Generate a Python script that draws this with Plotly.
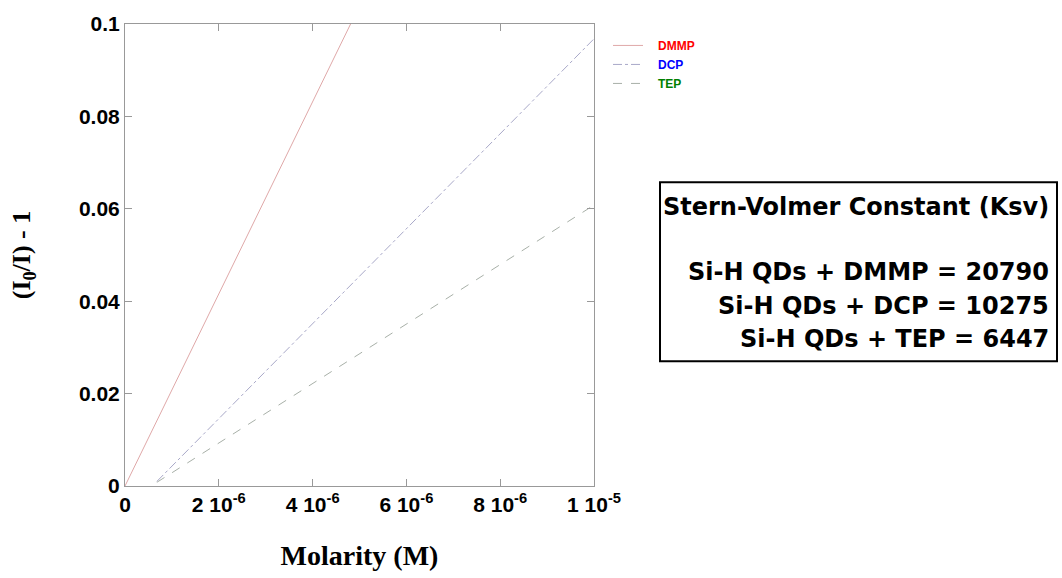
import plotly.graph_objects as go

# Data
dmmp_x = [0.0, 1.0e-5]
dmmp_y = [0.0, 0.2079]
dcp_x = [0.68e-6, 1.0e-5]
dcp_y = [0.0010, 0.0968]
tep_x = [0.68e-6, 1.0e-5]
tep_y = [0.0008, 0.0608]

x_tickvals = [0, 2e-6, 4e-6, 6e-6, 8e-6, 1e-5]
x_ticktext = ["0", "2 10<sup>-6</sup>", "4 10<sup>-6</sup>", "6 10<sup>-6</sup>",
              "8 10<sup>-6</sup>", "1 10<sup>-5</sup>"]
y_tickvals = [0, 0.02, 0.04, 0.06, 0.08, 0.1]
y_ticktext = ["0", "0.02", "0.04", "0.06", "0.08", "0.1"]

box_lines = ["Stern-Volmer Constant (Ksv)",
             "Si-H QDs + DMMP = 20790",
             "Si-H QDs + DCP = 10275",
             "Si-H QDs + TEP = 6447"]

fig = go.Figure()
fig.add_trace(go.Scatter(x=dmmp_x, y=dmmp_y, mode="lines",
                         name="&nbsp;&nbsp;&nbsp;<span style='color:#ff0000'><b>DMMP</b></span>",
                         line=dict(color="#dfa8a8", width=1)))
fig.add_trace(go.Scatter(x=dcp_x, y=dcp_y, mode="lines",
                         name="&nbsp;&nbsp;&nbsp;<span style='color:#0000ff'><b>DCP</b></span>",
                         line=dict(color="#a8a8c8", width=1, dash="dashdot")))
fig.add_trace(go.Scatter(x=tep_x, y=tep_y, mode="lines",
                         name="&nbsp;&nbsp;&nbsp;<span style='color:#008000'><b>TEP</b></span>",
                         line=dict(color="#a8b0a8", width=1, dash="dash")))

axis_common = dict(showgrid=False, zeroline=False, showline=True, linecolor="#999999",
                   linewidth=1, mirror="ticks", ticks="inside", ticklen=7,
                   tickcolor="#999999",
                   tickfont=dict(family="Liberation Sans, Arial", size=21, color="black",
                                 weight="bold"))

fig.update_xaxes(range=[0, 1e-5], tickvals=x_tickvals, ticktext=x_ticktext,
                 title=dict(text="<b>Molarity (M)</b>", standoff=30,
                            font=dict(family="Liberation Serif, Times New Roman", size=28,
                                      color="black")),
                 **axis_common)
fig.update_yaxes(range=[0, 0.1], tickvals=y_tickvals, ticktext=y_ticktext,
                 title=dict(text="<b>(I<sub>0</sub>/I) - 1</b>", standoff=40,
                            font=dict(family="Liberation Serif, Times New Roman", size=26,
                                      color="black")),
                 **axis_common)

# Text box
L, R, T, B = 125, 594, 22, 489
def px(xp):
    return (xp - L) / (R - L)
def py(yp):
    return (B - yp) / (B - T)

fig.add_shape(type="rect", xref="paper", yref="paper",
              x0=px(660), x1=px(1057), y0=py(363), y1=py(182),
              line=dict(color="black", width=2), fillcolor="white")
for txt, yy in zip(box_lines, [207, 273, 307, 340]):
    fig.add_annotation(text=txt, xref="paper", yref="paper", x=px(1051), y=py(yy),
                       xanchor="right", yanchor="middle", showarrow=False,
                       font=dict(family="DejaVu Sans", size=24, color="black",
                                 weight="bold"))

fig.update_layout(
    width=1062, height=578,
    margin=dict(l=L, r=1062 - R, t=T, b=578 - B),
    paper_bgcolor="white", plot_bgcolor="white",
    showlegend=True,
    legend=dict(x=px(608), y=py(29), xanchor="left", yanchor="top",
                font=dict(family="Liberation Sans, Arial", size=12),
                bgcolor="rgba(0,0,0,0)", itemwidth=30, tracegroupgap=0),
)

fig.write_html("out.html")
